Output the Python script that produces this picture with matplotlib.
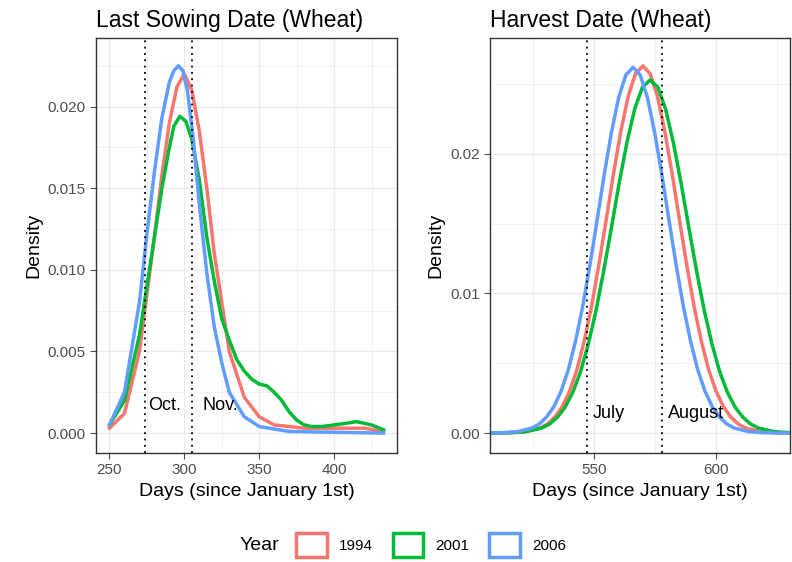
import matplotlib
matplotlib.use("Agg")
import matplotlib.pyplot as plt
from matplotlib.patches import Patch

plt.rcParams['font.family'] = ['Liberation Sans', 'DejaVu Sans']

years = ["1994", "2001", "2006"]
colors = ["#F8766D", "#00BA38", "#619CFF"]

sow_x = {
 "1994": [250,260,270,280,285,290,295,300,305,310,315,320,325,330,340,350,360,380,400,420,433],
 "2001": [250,260,270,275,280,285,290,293,297,301,305,310,315,320,325,330,335,340,345,350,355,360,365,370,375,380,385,392,400,408,415,425,433],
 "2006": [250,260,270,275,280,285,290,293,296,299,302,306,310,315,320,325,330,340,350,370,400,433],
}
sow_y = {
 "1994": [0.0003,0.0012,0.005,0.012,0.0158,0.019,0.0212,0.022,0.0210,0.0185,0.0150,0.011,0.008,0.005,0.0022,0.001,0.0005,0.0003,0.0003,0.0003,0.0001],
 "2001": [0.0005,0.002,0.006,0.009,0.012,0.015,0.0175,0.0188,0.0194,0.0191,0.018,0.0155,0.012,0.0093,0.007,0.0057,0.0045,0.0038,0.0033,0.0030,0.0029,0.0025,0.002,0.0013,0.0008,0.0005,0.0004,0.0004,0.0005,0.0006,0.0007,0.0005,0.0002],
 "2006": [0.0005,0.0025,0.008,0.0122,0.016,0.0193,0.0215,0.0222,0.0225,0.0222,0.021,0.018,0.014,0.0098,0.0065,0.0043,0.0025,0.001,0.0004,0.0001,0.00005,0.0],
}
har_offsets = [-56,-50,-45,-40,-35,-32.5,-30,-27.5,-25,-22.5,-20,-17.5,-15,-12.5,-10,-7.5,-5,-2.5,0,
               2.5,5,7.5,10,12.5,15,17.5,20,22.5,25,27.5,30,32.5,35,40,45,50,56]
har_shape = [0.0,0.0002,0.001,0.004,0.014,0.025,0.044,0.072,0.114,0.172,0.25,0.345,0.458,0.581,0.707,0.822,0.917,0.979,1.0,
             0.979,0.917,0.822,0.707,0.581,0.458,0.345,0.25,0.172,0.114,0.072,0.044,0.025,0.014,0.004,0.001,0.0002,0.0]
har_peak_day = {"1994": 570, "2001": 573, "2006": 566}
har_peak_val = {"1994": 0.0263, "2001": 0.0253, "2006": 0.0262}
har_width = {"1994": 1.2, "2001": 1.27, "2006": 1.18}
har_x = {y: [har_peak_day[y] + o * har_width[y] for o in har_offsets] for y in years}
har_y = {y: [har_peak_val[y] * s for s in har_shape] for y in years}

fig = plt.figure(figsize=(7.92, 5.62), dpi=100)
W, H = 792, 562
def ax_at(l, t, r, b):
    return fig.add_axes([l / W, 1 - b / H, (r - l) / W, (b - t) / H])

ax1 = ax_at(96, 38, 397, 453)
ax2 = ax_at(490, 38, 790, 453)

for ax in (ax1, ax2):
    ax.set_facecolor("white")
    ax.grid(True, color="#EBEBEB", linewidth=1.0)
    ax.grid(True, which="minor", color="#EBEBEB", linewidth=0.5)
    ax.set_axisbelow(True)
    for s in ax.spines.values():
        s.set_color("#333333")
        s.set_linewidth(1.0)
    ax.tick_params(colors="#4D4D4D", labelsize=11, length=4, width=0.8)
    ax.set_xlabel("Days (since January 1st)", fontsize=14)
    ax.set_ylabel("Density", fontsize=14)

for y, c in zip(years, colors):
    ax1.plot(sow_x[y], sow_y[y], color=c, lw=2.5)
    ax2.plot(har_x[y], har_y[y], color=c, lw=2.5)

ax1.set_xlim(241, 442)
ax1.set_ylim(-0.00122, 0.0242)
ax1.set_xticks([250, 300, 350, 400])
ax1.set_xticks([275, 325, 375, 425], minor=True)
ax1.set_yticks([0, 0.005, 0.010, 0.015, 0.020])
ax1.set_yticklabels(["0.000", "0.005", "0.010", "0.015", "0.020"])
ax1.set_yticks([0.0025, 0.0075, 0.0125, 0.0175, 0.0225], minor=True)
ax1.tick_params(which="minor", length=0)
for d in (274, 305):
    ax1.axvline(d, color="black", ls=(0, (1, 2.5)), lw=1.3)
ax1.text(287, 0.0014, "Oct.", fontsize=13, ha="center")
ax1.text(324, 0.0014, "Nov.", fontsize=13, ha="center")
ax1.set_title("Last Sowing Date (Wheat)", fontsize=16.5, loc="left", pad=8)

ax2.set_xlim(507.4, 630.3)
ax2.set_ylim(-0.00143, 0.0283)
ax2.set_xticks([550, 600])
ax2.set_xticks([525, 575, 625], minor=True)
ax2.set_yticks([0, 0.01, 0.02])
ax2.set_yticklabels(["0.00", "0.01", "0.02"])
ax2.set_yticks([0.005, 0.015, 0.025], minor=True)
ax2.tick_params(which="minor", length=0)
for d in (547, 578):
    ax2.axvline(d, color="black", ls=(0, (1, 2.5)), lw=1.3)
ax2.text(556, 0.0011, "July", fontsize=13, ha="center")
ax2.text(592, 0.0011, "August", fontsize=13, ha="center")
ax2.set_title("Harvest Date (Wheat)", fontsize=16.5, loc="left", pad=8)

fig.text(240 / W, 1 - 545 / H, "Year", fontsize=14, va="center", ha="left")
handles = [Patch(facecolor="white", edgecolor=c, linewidth=2.5) for c in colors]
fig.legend(handles, years, loc="center left", bbox_to_anchor=(296 / W, 1 - 545 / H),
           ncol=3, frameon=False, fontsize=11, borderaxespad=0, borderpad=0,
           handlelength=2.0, handleheight=2.0, columnspacing=1.3, handletextpad=0.8)
fig.savefig("out.png", dpi=100, facecolor="white")
